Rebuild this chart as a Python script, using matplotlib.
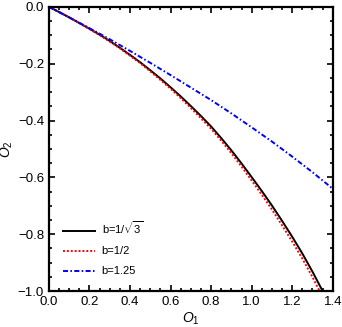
import numpy as np
import matplotlib
matplotlib.use('Agg')
import matplotlib.pyplot as plt
from matplotlib.ticker import MultipleLocator

plt.rcParams['font.family'] = ['Liberation Sans', 'DejaVu Sans']
plt.rcParams['mathtext.fontset'] = 'custom'
plt.rcParams['mathtext.rm'] = 'Liberation Sans'
plt.rcParams['mathtext.it'] = 'Liberation Sans:italic'

# values
o1_black = [0.0, 0.05, 0.1, 0.15, 0.2, 0.25, 0.3, 0.35, 0.4, 0.45, 0.5, 0.55, 0.6, 0.65,
            0.7, 0.75, 0.8, 0.85, 0.9, 0.95, 1.0, 1.05, 1.1, 1.15, 1.2, 1.25, 1.3, 1.35]
o2_black = [0.0, -0.018, -0.037, -0.057, -0.077, -0.098, -0.12, -0.144, -0.169, -0.195,
            -0.223, -0.252, -0.283, -0.315, -0.349, -0.384, -0.421, -0.462, -0.505, -0.551,
            -0.599, -0.648, -0.699, -0.753, -0.809, -0.868, -0.932, -1.0]

o1_red = [0.0, 0.05, 0.1, 0.15, 0.2, 0.25, 0.3, 0.35, 0.4, 0.45, 0.5, 0.55, 0.6, 0.65,
          0.7, 0.75, 0.8, 0.85, 0.9, 0.95, 1.0, 1.05, 1.1, 1.15, 1.2, 1.25, 1.3, 1.335]
o2_red = [0.0, -0.018, -0.037, -0.057, -0.078, -0.099, -0.122, -0.146, -0.172, -0.198,
          -0.227, -0.257, -0.288, -0.321, -0.356, -0.392, -0.429, -0.471, -0.515, -0.562,
          -0.611, -0.661, -0.713, -0.769, -0.826, -0.886, -0.951, -1.0]

o1_blue = [0.0, 0.1, 0.2, 0.3, 0.4, 0.5, 0.6, 0.7, 0.8, 0.9, 1.0, 1.1, 1.2, 1.3, 1.4]
o2_blue = [0.0, -0.037, -0.075, -0.114, -0.155, -0.197, -0.24, -0.284, -0.328, -0.375,
           -0.424, -0.474, -0.527, -0.582, -0.64]

labels = [r'b=1/$\sqrt{3}$', 'b=1/2', 'b=1.25']

fig = plt.figure(figsize=(3.42, 3.27), dpi=100)
ax = fig.add_axes([0.143, 0.110, 0.830, 0.869])

ax.plot(o1_black, o2_black, color='black', lw=1.4, label=labels[0])
ax.plot(o1_red, o2_red, color='red', lw=1.4, ls=(0, (1, 1)), label=labels[1])
ax.plot(o1_blue, o2_blue, color='blue', lw=1.4, ls=(0, (2.6, 1.2, 0.8, 1.2)), label=labels[2])

ax.set_xlim(0, 1.4)
ax.set_ylim(-1.0, 0.0)
ax.xaxis.set_major_locator(MultipleLocator(0.2))
ax.xaxis.set_minor_locator(MultipleLocator(0.05))
ax.yaxis.set_major_locator(MultipleLocator(0.2))
ax.yaxis.set_minor_locator(MultipleLocator(0.05))
ax.tick_params(which='both', direction='in', top=True, right=True, labelsize=9.5, width=1.2)
ax.tick_params(which='major', length=4)
ax.tick_params(which='minor', length=2)
for s in ax.spines.values():
    s.set_linewidth(1.6)

ax.set_xlabel(r'$O_1$', fontsize=10, labelpad=2)
ax.set_ylabel(r'$O_2$', fontsize=10, labelpad=2)

ax.legend(loc='lower left', bbox_to_anchor=(0.014, 0.016), frameon=False, fontsize=8,
          handlelength=2.9, handletextpad=0.6, labelspacing=0.9)

fig.savefig('out.png', dpi=100)
